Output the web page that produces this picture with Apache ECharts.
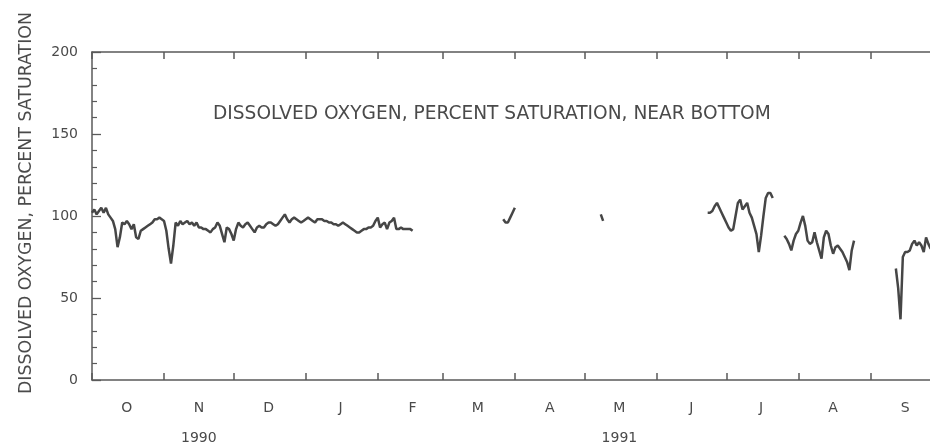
<!DOCTYPE html>
<html><head><meta charset="utf-8">
<script src="https://cdn.jsdelivr.net/npm/echarts@6/dist/echarts.min.js"></script>
<style>html,body{margin:0;padding:0;background:#fff}#c{width:930px;height:444px}</style>
</head><body><div id="c"></div>
<script>
// ---- data (daily values, percent saturation) ----
const monthLetters = ['J','F','M','A','M','J','J','A','S','O','N','D'];
const yearLabels = {'1990-11':'1990','1991-05':'1991'};
const yMin = 0, yMax = 200, yStep = 50;
const axisTitle = 'DISSOLVED OXYGEN, PERCENT SATURATION';
const noteText = 'DISSOLVED OXYGEN, PERCENT SATURATION, NEAR BOTTOM';

const seg1Start = '1990-10-01';
const seg1 = [102,104,101,103,105,102,105,101,99,97,
  92,81,87,96,95,97,95,92,95,87,
  86,91,92,93,94,95,96,98,98,99,
  98,97,91,80,71,82,96,94,97,95,
  96,97,95,96,94,96,93,93,92,92,
  91,90,92,93,96,94,89,84,93,92,
  89,85,92,96,94,93,95,96,94,92,
  90,93,94,93,93,95,96,96,95,94,
  95,97,99,101,98,96,98,99,98,97,
  96,97,98,99,98,97,96,98,98,98,
  97,97,96,96,95,95,94,95,96,95,
  94,93,92,91,90,90,91,92,92,93,
  93,94,97,99,93,95,96,92,96,97,
  99,92,92,93,92,92,92,92,91];
const seg2Start = '1991-03-27';
const seg2 = [98,96,96,99,102,105];
const seg3Start = '1991-05-08';
const seg3 = [101,97];
const seg4Start = '1991-06-23';
const seg4 = [102,102,103,106,108,105,102,99,96,93,91,92,100,108,110,104,106,108,102,99,94,89,78,88,100,111,114,114,111];
const seg5Start = '1991-07-26';
const seg5 = [88,86,83,79,85,89,91,96,100,94,85,83,84,90,84,79,74,87,91,89,82,77,81,82,80,78,75,72,67,79,85];
const seg6Start = '1991-09-12';
const seg6 = [68,56,37,75,78,78,79,83,85,82,84,82,78,87,83,80,82,84,82];

// ---- build category axis (one entry per day, Oct 1 1990 .. Oct 1 1991) ----
const days = [];
const t0 = Date.UTC(1990, 9, 1);
for (let i = 0; i < 366; i++) days.push(new Date(t0 + i * 86400000).toISOString().slice(0, 10));
const values = new Array(days.length).fill(null);
[[seg1Start, seg1], [seg2Start, seg2], [seg3Start, seg3], [seg4Start, seg4], [seg5Start, seg5], [seg6Start, seg6]]
  .forEach(([s, arr]) => { const k = days.indexOf(s); arr.forEach((v, j) => { values[k + j] = v; }); });

const FONT = 'DejaVu Sans';
const TXT = '#4a4a4a';
const AX = '#5a5a5a';
const isMonthStart = (i, v) => v.slice(8) === '01';
const isMidMonth = (i, v) => v.slice(8) === '16';
const monthLabel = v => {
  const m = monthLetters[+v.slice(5, 7) - 1];
  const y = yearLabels[v.slice(0, 7)];
  return y ? m + '\n' + y : m;
};

const xBase = {
  type: 'category', data: days, boundaryGap: false,
  axisLine: {show: true, onZero: false, lineStyle: {color: AX, width: 1.5}},
  axisTick: {show: true, inside: true, length: 7, interval: isMonthStart, lineStyle: {color: AX, width: 1.5}},
  splitLine: {show: false}
};
const yBase = {
  type: 'value', min: yMin, max: yMax, interval: yStep,
  axisLine: {show: true, onZero: false, lineStyle: {color: AX, width: 1.5}},
  axisTick: {show: true, inside: true, length: 9, lineStyle: {color: AX, width: 1.3}},
  minorTick: {show: true, splitNumber: 5, length: 5, lineStyle: {color: AX, width: 1.2}},
  splitLine: {show: false}, minorSplitLine: {show: false}
};

const chart = echarts.init(document.getElementById('c'), null, {renderer: 'canvas'});
chart.setOption({
  animation: false,
  backgroundColor: '#fff',
  grid: {left: 92, top: 52, width: 848, height: 328, containLabel: false, outerBoundsMode: 'none'},
  xAxis: [
    Object.assign({}, xBase, {position: 'bottom',
      axisLabel: {show: true, interval: isMidMonth, formatter: monthLabel, color: TXT,
        fontFamily: FONT, fontSize: 14, lineHeight: 30, margin: 13}}),
    Object.assign({}, xBase, {position: 'top', axisLabel: {show: false}})
  ],
  yAxis: [
    Object.assign({}, yBase, {position: 'left',
      axisLabel: {show: true, color: TXT, fontFamily: FONT, fontSize: 14, margin: 14}}),
    Object.assign({}, yBase, {position: 'right', axisLabel: {show: false}})
  ],
  graphic: [{
    type: 'text', x: 213, y: 114,
    style: {text: noteText, fill: TXT, fontFamily: FONT, fontSize: 18.6, verticalAlign: 'middle', textVerticalAlign: 'middle'}
  }, {
    type: 'text', x: 26, y: 203, rotation: Math.PI / 2,
    style: {text: axisTitle, fill: TXT, fontFamily: FONT, fontSize: 17.4, align: 'center', textAlign: 'center',
      verticalAlign: 'middle', textVerticalAlign: 'middle'}
  }],
  series: [{
    type: 'line', data: values, xAxisIndex: 0, yAxisIndex: 0,
    showSymbol: false, symbol: 'none', connectNulls: false,
    lineStyle: {color: '#464646', width: 2.5}
  }]
});
</script>
</body></html>
